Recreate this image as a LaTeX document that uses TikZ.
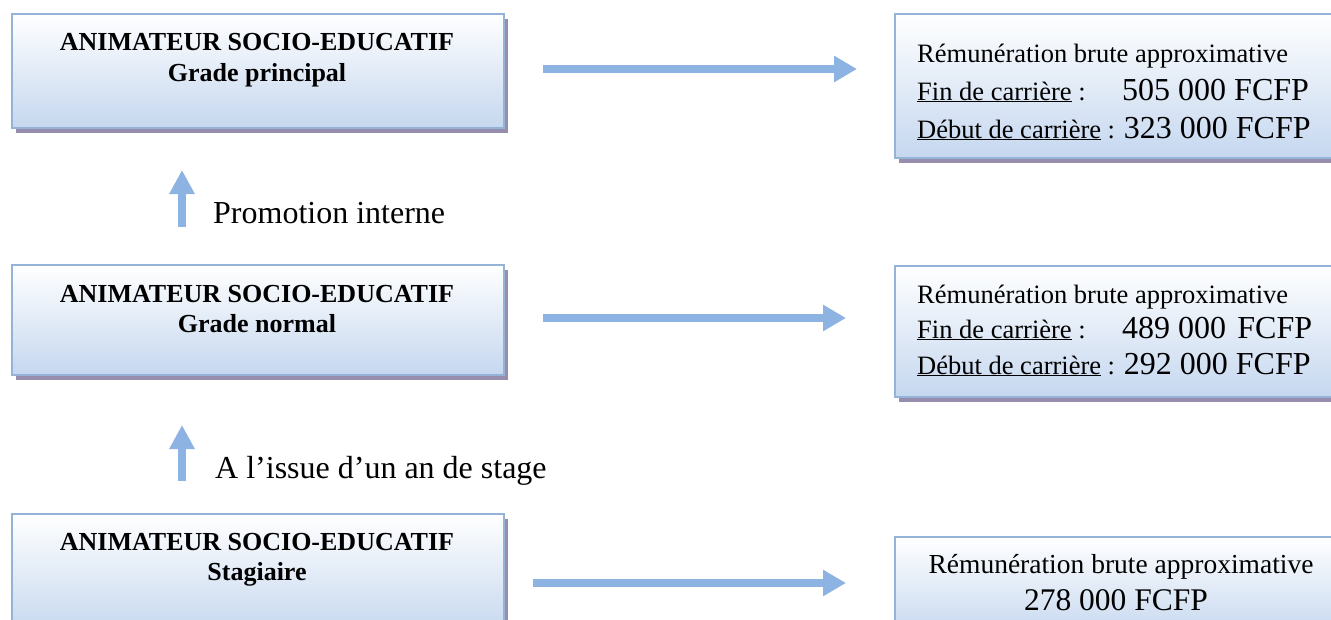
\documentclass[tikz,border=0pt]{standalone}
\usepackage{fontspec}
\setmainfont{Liberation Serif}
\usetikzlibrary{arrows.meta,shadows}
\definecolor{boxborder}{RGB}{149,179,215}
\definecolor{boxfill}{RGB}{197,215,239}
\definecolor{arrowblue}{RGB}{141,179,226}
\definecolor{shadowcol}{RGB}{150,142,172}
\newcommand\fsz[2]{\fontsize{#1}{#2}\selectfont}
\begin{document}
\begin{tikzpicture}[x=1pt,y=-1pt,
 cbox/.style={draw=boxborder, line width=2.8pt, top color=white, bottom color=boxfill, inner sep=0pt,
   general shadow={fill=shadowcol, shadow xshift=4pt, shadow yshift=-5pt}},
 title/.style={font=\fsz{26}{31}\bfseries, inner sep=0pt, anchor=base},
 small/.style={font=\fsz{26.5}{32}, inner sep=0pt, anchor=base west},
 big/.style={font=\fsz{32}{38}, inner sep=0pt, anchor=base west},
 flow/.style={draw=arrowblue, line width=8pt, -{Triangle[length=23pt,width=25pt]}},
 note/.style={font=\fsz{32}{38}, inner sep=0pt, anchor=base west}]
\useasboundingbox (0,0) rectangle (1331,619);
\clip (0,0) rectangle (1331,619);

% left boxes
\node[cbox, minimum width=492pt, minimum height=114pt] (L1) at (258,71) {};
\node[cbox, minimum width=492pt, minimum height=110pt] (L2) at (258,320) {};
\node[cbox, minimum width=492pt, minimum height=120pt] (L3) at (258,574) {};

\node[title] (L1a) at (257,50) {ANIMATEUR SOCIO-EDUCATIF};
\node[title] (L1b) at (257,81) {Grade principal};
\node[title] (L2a) at (257,302) {ANIMATEUR SOCIO-EDUCATIF};
\node[title] (L2b) at (257,332) {Grade normal};
\node[title] (L3a) at (257,550) {ANIMATEUR SOCIO-EDUCATIF};
\node[title] (L3b) at (257,580) {Stagiaire};

% right boxes
\node[cbox, minimum width=445pt, minimum height=144pt] (R1) at (1117.5,86) {};
\node[cbox, minimum width=445pt, minimum height=131pt] (R2) at (1117.5,331.5) {};
\node[cbox, minimum width=445pt, minimum height=100pt] (R3) at (1117.5,587) {};

\node[small] (R1a) at (917,62) {Rémunération brute approximative};
\node[small] (R1b) at (917,100) {\underline{Fin de carrière} :};
\node[big]   (R1c) at (1122,100) {505 000 FCFP};
\node[small] (R1d) at (917,138) {\underline{Début de carrière} : {\fsz{32}{38}323 000 FCFP}};

\node[small] (R2a) at (917,303) {Rémunération brute approximative};
\node[small] (R2b) at (917,338) {\underline{Fin de carrière} :};
\node[big]   (R2c) at (1122,338) {489 000 \hspace{0.1em}FCFP};
\node[small] (R2d) at (917,374) {\underline{Début de carrière} : {\fsz{32}{38}292 000 FCFP}};

\node[font=\fsz{27.5}{33}, inner sep=0pt, anchor=base] (R3a) at (1121,573) {Rémunération brute approximative};
\node[font=\fsz{31.5}{38}, inner sep=0pt, anchor=base] (R3b) at (1116,610) {278 000 FCFP};

% horizontal arrows
\coordinate (h1s) at (543,69);  \coordinate (h1e) at (857,69);
\coordinate (h2s) at (543,318); \coordinate (h2e) at (846,318);
\coordinate (h3s) at (533,583); \coordinate (h3e) at (846,583);
\draw[flow] (h1s) -- (h1e);
\draw[flow] (h2s) -- (h2e);
\draw[flow] (h3s) -- (h3e);

% vertical arrows
\coordinate (v1s) at (182,227); \coordinate (v1e) at (182,170);
\coordinate (v2s) at (182,481); \coordinate (v2e) at (182,425);
\draw[flow, -{Triangle[length=24pt,width=24pt]}] (v1s) -- (v1e);
\draw[flow, -{Triangle[length=24pt,width=24pt]}] (v2s) -- (v2e);

\node[note] (n1) at (213,223) {Promotion interne};
\node[note] (n2) at (215,478) {A l’issue d’un an de stage};
\end{tikzpicture}
\end{document}
